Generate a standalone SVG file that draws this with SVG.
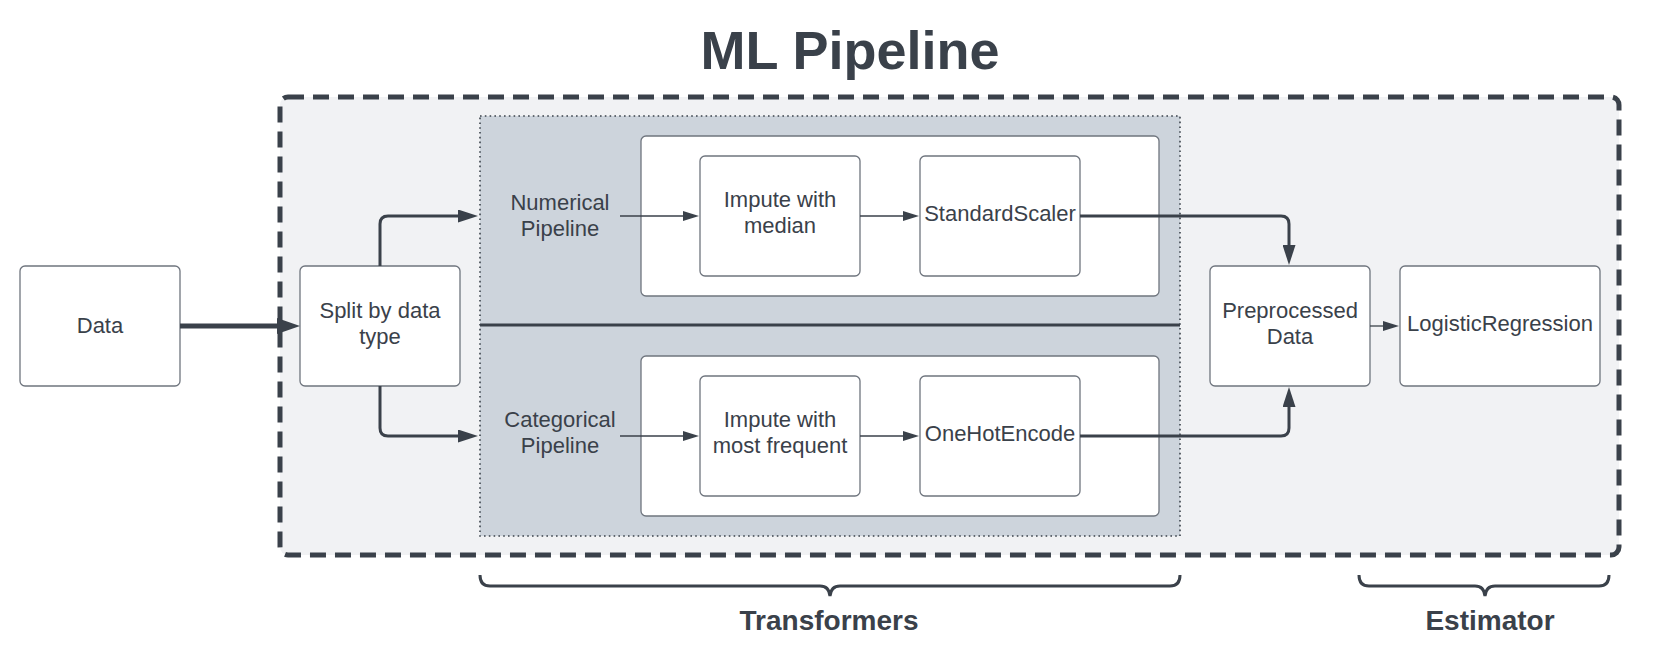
<svg xmlns="http://www.w3.org/2000/svg" width="1660" height="672" viewBox="0 0 1660 672">
<style>
text{font-family:"Liberation Sans",Arial,sans-serif;fill:#3a414a}
.t{font-size:22px;text-anchor:middle}
.b{font-weight:bold;text-anchor:middle}
.node{fill:#ffffff;stroke:#6f757e;stroke-width:1.3}
.conn{fill:none;stroke:#3a414a;stroke-linejoin:round}
.thin{stroke-width:1.3}
.mid{stroke-width:3}
.big{stroke-width:5}
</style>
<defs>
<marker id="mBig" markerUnits="userSpaceOnUse" markerWidth="23" markerHeight="16" viewBox="0 0 23 16" refX="1" refY="8" orient="auto"><path d="M0,0 L23,8 L0,16 Z" fill="#3a414a"/></marker>
<marker id="mMid" markerUnits="userSpaceOnUse" markerWidth="20" markerHeight="13" viewBox="0 0 20 13" refX="1" refY="6.5" orient="auto"><path d="M0,0 L20,6.5 L0,13 Z" fill="#3a414a"/></marker>
<marker id="mSmall" markerUnits="userSpaceOnUse" markerWidth="16" markerHeight="10" viewBox="0 0 16 10" refX="1" refY="5" orient="auto"><path d="M0,0 L16,5 L0,10 Z" fill="#3a414a"/></marker>
</defs>
<rect width="1660" height="672" fill="#ffffff"/>
<g id="title"><text class="b" x="850" y="69" font-size="54">ML Pipeline</text></g>
<g id="ml-pipeline"><rect x="280" y="97" width="1339" height="458" rx="8" fill="#f1f2f4" stroke="#3a414a" stroke-width="5" stroke-dasharray="16 9"/></g>
<g id="transformers-area">
<rect x="480" y="116" width="700" height="420" fill="#cdd4dc" stroke="#3a414a" stroke-width="1.6" stroke-dasharray="1.6 3.2"/>
<line x1="480" y1="325" x2="1180" y2="325" stroke="#3a414a" stroke-width="3"/>
</g>
<g id="numerical-pipeline">
<rect class="node" x="641" y="136" width="518" height="160" rx="5"/>
<text class="t" x="560" y="210">Numerical</text><text class="t" x="560" y="236">Pipeline</text>
</g>
<g id="categorical-pipeline">
<rect class="node" x="641" y="356" width="518" height="160" rx="5"/>
<text class="t" x="560" y="427">Categorical</text><text class="t" x="560" y="453">Pipeline</text>
</g>
<g id="data"><rect class="node" x="20" y="266" width="160" height="120" rx="5"/><text class="t" x="100" y="333">Data</text></g>
<g id="split"><rect class="node" x="300" y="266" width="160" height="120" rx="5"/><text class="t" x="380" y="318">Split by data</text><text class="t" x="380" y="344">type</text></g>
<g id="impute-median"><rect class="node" x="700" y="156" width="160" height="120" rx="5"/><text class="t" x="780" y="207">Impute with</text><text class="t" x="780" y="233">median</text></g>
<g id="standard-scaler"><rect class="node" x="920" y="156" width="160" height="120" rx="5"/><text class="t" x="1000" y="221">StandardScaler</text></g>
<g id="impute-frequent"><rect class="node" x="700" y="376" width="160" height="120" rx="5"/><text class="t" x="780" y="427">Impute with</text><text class="t" x="780" y="453">most frequent</text></g>
<g id="onehot"><rect class="node" x="920" y="376" width="160" height="120" rx="5"/><text class="t" x="1000" y="441">OneHotEncode</text></g>
<g id="preprocessed"><rect class="node" x="1210" y="266" width="160" height="120" rx="5"/><text class="t" x="1290" y="318">Preprocessed</text><text class="t" x="1290" y="344">Data</text></g>
<g id="logreg"><rect class="node" x="1400" y="266" width="200" height="120" rx="5"/><text class="t" x="1500" y="331">LogisticRegression</text></g>
<g id="connectors">
<path class="conn big" d="M180,326 L278,326" marker-end="url(#mBig)"/>
<path class="conn mid" d="M380,266 L380,224 Q380,216 388,216 L459,216" marker-end="url(#mMid)"/>
<path class="conn mid" d="M380,386 L380,428 Q380,436 388,436 L459,436" marker-end="url(#mMid)"/>
<path class="conn thin" d="M620,216 L684,216" marker-end="url(#mSmall)"/>
<path class="conn thin" d="M860,216 L904,216" marker-end="url(#mSmall)"/>
<path class="conn thin" d="M620,436 L684,436" marker-end="url(#mSmall)"/>
<path class="conn thin" d="M860,436 L904,436" marker-end="url(#mSmall)"/>
<path class="conn mid" d="M1080,216 L1281,216 Q1289,216 1289,224 L1289,246" marker-end="url(#mMid)"/>
<path class="conn mid" d="M1080,436 L1281,436 Q1289,436 1289,428 L1289,406" marker-end="url(#mMid)"/>
<path class="conn thin" d="M1370,326 L1384,326" marker-end="url(#mSmall)"/>
</g>
<g id="transformers-brace">
<path d="M480,575 Q480,586 490,586 L820,586 Q829,586 830,596 Q831,586 840,586 L1170,586 Q1180,586 1180,575" fill="none" stroke="#3a414a" stroke-width="3"/>
<text class="b" x="829" y="630" font-size="28">Transformers</text>
</g>
<g id="estimator-brace">
<path d="M1359,575 Q1359,586 1369,586 L1475,586 Q1484,586 1485,596 Q1486,586 1495,586 L1599,586 Q1609,586 1609,575" fill="none" stroke="#3a414a" stroke-width="3"/>
<text class="b" x="1490" y="630" font-size="28">Estimator</text>
</g>
</svg>
